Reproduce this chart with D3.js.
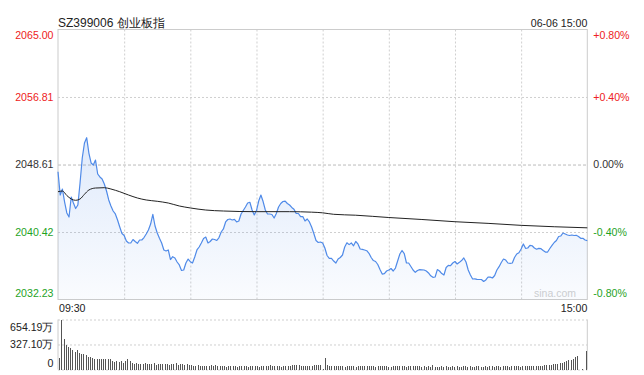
<!DOCTYPE html>
<html><head><meta charset="utf-8">
<script src="https://cdn.jsdelivr.net/npm/d3@7"></script>
<style>html,body{margin:0;padding:0;background:#fff;}svg{display:block;font-family:Arial,"Liberation Sans",Helvetica,sans-serif;}</style>
</head><body><svg id="c" width="644" height="375"></svg>
<script>
const title = "SZ399006 创业板指";
const stamp = "06-06 15:00";
const prevClose = 2048.61;
const priceTicks = [2065.00, 2056.81, 2048.61, 2040.42, 2032.23];
const pctLabels = ["+0.80%", "+0.40%", "0.00%", "-0.40%", "-0.80%"];
const volTicks = [654.19, 327.10, 0];
const volLabels = ["654.19万", "327.10万", "0"];
const timeLabels = ["09:30", "15:00"];
const watermark = "sina.com";

const prices = [
2047.74,2044.91,2045.64,2044.06,2042.73,2042.24,2044.67,2043.94,2043.27,2043.70,
2046.37,2049.40,2051.22,2051.87,2050.01,2048.80,2048.55,2049.16,2047.46,2047.10,
2046.85,2046.25,2045.40,2044.31,2043.58,2042.97,2042.61,2041.88,2041.03,2040.24,
2040.00,2039.33,2039.09,2039.09,2039.51,2039.27,2039.05,2039.45,2039.45,2039.75,
2040.18,2040.66,2041.39,2042.57,2041.15,2040.30,2039.66,2039.09,2038.24,2038.12,
2038.24,2037.08,2037.42,2037.27,2036.78,2036.42,2035.75,2035.81,2036.66,2037.14,
2036.82,2036.66,2037.39,2038.24,2038.60,2039.09,2039.63,2039.81,2039.09,2039.27,
2039.57,2039.51,2039.39,2039.75,2040.42,2040.79,2041.64,2041.94,2042.00,2041.88,
2041.96,2041.64,2041.76,2042.61,2043.03,2043.46,2043.94,2044.03,2043.09,2042.49,
2043.03,2044.18,2044.91,2044.12,2043.09,2042.61,2042.61,2042.55,2042.12,2042.67,
2043.46,2043.88,2044.12,2044.18,2043.88,2043.70,2043.40,2043.18,2042.67,2042.67,
2042.28,2042.30,2041.76,2042.00,2041.64,2041.03,2040.24,2039.39,2039.15,2039.21,
2039.09,2038.48,2037.57,2037.23,2037.21,2036.90,2036.66,2037.14,2037.33,2037.63,
2038.60,2039.11,2038.89,2039.09,2038.75,2039.27,2038.97,2038.36,2038.32,2038.24,
2038.15,2037.84,2037.33,2036.96,2036.84,2036.48,2035.87,2035.32,2035.38,2035.69,
2035.81,2035.99,2035.69,2036.05,2036.90,2037.75,2038.18,2037.81,2036.66,2036.66,
2036.24,2035.81,2035.53,2035.75,2035.85,2035.83,2035.81,2035.69,2035.45,2035.11,
2034.92,2034.96,2035.86,2035.69,2035.38,2035.20,2036.11,2036.38,2036.33,2036.66,
2036.84,2036.54,2036.74,2036.96,2037.27,2036.78,2035.81,2035.20,2034.72,2034.74,
2034.68,2034.66,2034.66,2034.42,2034.60,2034.96,2034.94,2034.84,2035.14,2035.81,
2036.21,2036.72,2037.14,2037.02,2036.66,2036.62,2036.66,2037.33,2037.75,2037.91,
2038.36,2038.97,2038.44,2038.48,2038.79,2038.75,2038.48,2038.33,2038.44,2038.40,
2038.18,2037.99,2037.99,2038.42,2038.79,2039.15,2039.39,2039.88,2039.94,2040.30,
2040.18,2040.06,2040.00,2040.06,2040.00,2040.02,2039.88,2039.66,2039.66,2039.45,
2039.37
];

const avgMinutes = [0,2,4,6,8,10,12,14,17,21,24,28,32,36,40,45,50,55,60,67,75,90,105,115,120,125,135,150,165,180,195,210,225,240];
const avgValues = [2045.31,2045.40,2044.85,2044.43,2044.27,2044.43,2045.00,2045.52,2045.76,2045.80,2045.64,2045.31,2044.91,2044.55,2044.31,2044.15,2043.94,2043.58,2043.34,2043.09,2042.97,2042.89,2042.89,2042.83,2042.75,2042.57,2042.46,2042.18,2041.94,2041.67,2041.47,2041.23,2041.06,2040.93];

const volumes = [
153,654.19,397,327,297,275,253,231,253,218,
209,200,187,166,166,157,140,131,131,131,
140,131,140,131,113,100,113,100,113,87,
113,131,113,87,70,87,70,78,70,87,
70,70,78,87,57,70,70,70,70,78,
57,78,70,87,57,78,70,57,70,57,
57,44,44,57,44,52,52,52,52,65,
52,65,44,52,52,52,35,52,52,44,
52,30,52,44,44,52,30,44,44,52,
52,30,52,44,52,52,65,52,52,52,
44,30,44,44,44,44,65,65,65,65,
52,52,52,52,52,52,65,65,65,65,
8,144,65,52,52,52,44,44,44,44,
30,44,44,44,44,30,44,44,44,44,
52,44,44,44,30,44,52,52,44,44,
30,35,44,44,44,44,44,44,30,44,
44,44,52,44,44,35,44,35,44,35,
65,35,39,39,44,35,44,39,35,44,
39,44,39,35,44,44,39,44,35,39,
44,44,39,35,44,39,44,48,39,44,
44,39,44,48,44,39,44,44,48,44,
39,48,44,44,52,44,48,52,48,52,
52,61,57,65,61,74,70,78,87,83,
96,109,118,122,140,166,178,0,5,0,
240
];

const RED = "#ee2222", GREEN = "#1fa31f", DARK = "#333";
const L = 58, R = 587.3, T = 29.5, B = 299.5, VT = 319.5, VB = 369.5;
const FS = "10.6px";

const svg = d3.select("#c");
const x = d3.scaleLinear().domain([0, 240]).range([L, R]);
const y = d3.scaleLinear().domain([priceTicks[4], priceTicks[0]]).range([B, T]);
const vx = d3.scaleLinear().domain([0, 240]).range([59.3, 586]);
const vy = d3.scaleLinear().domain([0, volTicks[0]]).range([VB, VT]);
const colorOf = v => Math.abs(v - prevClose) < 0.005 ? DARK : (v > prevClose ? RED : GREEN);

// gradient
const defs = svg.append("defs");
const grad = defs.append("linearGradient").attr("id", "g").attr("gradientUnits", "userSpaceOnUse")
  .attr("x1", 0).attr("x2", 0).attr("y1", T).attr("y2", B);
grad.append("stop").attr("offset", 0).attr("stop-color", "#4f8ae8").attr("stop-opacity", 0.28);
grad.append("stop").attr("offset", 1).attr("stop-color", "#4f8ae8").attr("stop-opacity", 0.03);

// horizontal grid (main)
const hg = svg.append("g").attr("transform", `translate(${L},0)`)
  .call(d3.axisLeft(y).tickValues(priceTicks.slice(1, 4)).tickSize(-(R - L)).tickFormat(""));
hg.select(".domain").remove();
hg.selectAll("line").attr("stroke", "#c8c8c8").attr("stroke-dasharray", "2,2")
  .attr("stroke", d => d === prevClose ? "#bbb" : "#cfcfcf")
  .attr("stroke-dasharray", d => d === prevClose ? "3,2" : "2,2");

// vertical grid
const vg = svg.append("g").attr("transform", `translate(0,${B})`)
  .call(d3.axisBottom(x).tickValues([30, 60, 90, 120, 150, 180, 210]).tickSize(-(B - T)).tickFormat(""));
vg.select(".domain").remove();
vg.selectAll("line").attr("stroke", "#cfcfcf").attr("stroke-dasharray", "2,2");

// border main
svg.append("rect").attr("x", L).attr("y", T).attr("width", R - L).attr("height", B - T)
  .attr("fill", "none").attr("stroke", "#cccccc").attr("stroke-width", 1);

// watermark
svg.append("text").attr("x", 576).attr("y", 297).attr("text-anchor", "end")
  .attr("font-size", "10.5px").attr("fill", "#cfcfcf").text(watermark);

// area + line
svg.append("path").datum(prices)
  .attr("d", d3.area().x((d, i) => x(i)).y0(B).y1(d => y(d)))
  .attr("fill", "url(#g)");
svg.append("path").datum(prices)
  .attr("d", d3.line().x((d, i) => x(i)).y(d => y(d)))
  .attr("fill", "none").attr("stroke", "#4f8ae8").attr("stroke-width", 1.2).attr("stroke-linejoin", "round");

// avg line
svg.append("path").datum(avgMinutes.map((m, i) => [m, avgValues[i]]))
  .attr("d", d3.line().x(d => x(d[0])).y(d => y(d[1])).curve(d3.curveMonotoneX))
  .attr("fill", "none").attr("stroke", "#222").attr("stroke-width", 1);

// left price axis
const la = svg.append("g").attr("transform", `translate(${L},0)`)
  .call(d3.axisLeft(y).tickValues(priceTicks).tickSize(0).tickPadding(4.5).tickFormat(d => d.toFixed(2)));
la.select(".domain").remove();
la.selectAll("text").attr("font-size", FS).attr("font-family", null).attr("fill", d => colorOf(d))
  .attr("dy", (d, i) => i === 0 ? "9px" : (i === priceTicks.length - 1 ? "-3px" : "0.32em"));

// right pct axis
const ra = svg.append("g").attr("transform", `translate(${R},0)`)
  .call(d3.axisRight(y).tickValues(priceTicks).tickSize(0).tickPadding(6).tickFormat((d, i) => pctLabels[i]));
ra.select(".domain").remove();
ra.selectAll("text").attr("font-size", FS).attr("font-family", null).attr("fill", d => colorOf(d))
  .attr("dy", (d, i) => i === 0 ? "9px" : (i === priceTicks.length - 1 ? "-3px" : "0.32em"));

// header
svg.append("text").attr("x", L).attr("y", 27).attr("font-size", "12px").attr("fill", "#222").text(title);
svg.append("text").attr("x", R).attr("y", 27).attr("text-anchor", "end").attr("font-size", "10.6px").attr("fill", "#222").text(stamp);

// time labels
svg.append("text").attr("x", x(0) + 1).attr("y", 312).attr("font-size", FS).attr("fill", "#222").text(timeLabels[0]);
svg.append("text").attr("x", x(240)).attr("y", 312).attr("text-anchor", "end").attr("font-size", FS).attr("fill", "#222").text(timeLabels[1]);

// volume grid
const vgr = svg.append("g").attr("transform", `translate(${L},0)`)
  .call(d3.axisLeft(vy).tickValues(volTicks).tickSize(-(R - L)).tickFormat(""));
vgr.select(".domain").remove();
vgr.selectAll("line").attr("stroke", "#cfcfcf").attr("stroke-dasharray", "2,2");
svg.append("line").attr("x1", L).attr("x2", L).attr("y1", VT).attr("y2", VB).attr("stroke", "#ccc");
svg.append("line").attr("x1", R).attr("x2", R).attr("y1", VT).attr("y2", VB).attr("stroke", "#ccc");

// volume bars
svg.append("g").selectAll("rect").data(volumes).join("rect")
  .attr("x", (d, i) => Math.round(vx(i)) - 0.5 + 0.5).attr("width", 1)
  .attr("y", d => vy(d)).attr("height", d => VB - vy(d))
  .attr("fill", "#555").attr("shape-rendering", "crispEdges");

// volume axis
const va = svg.append("g").attr("transform", `translate(${L},0)`)
  .call(d3.axisLeft(vy).tickValues(volTicks).tickSize(0).tickPadding(4.5).tickFormat((d, i) => volLabels[i]));
va.select(".domain").remove();
va.selectAll("text").attr("font-size", FS).attr("font-family", null).attr("fill", "#222")
  .attr("dy", (d, i) => i === 0 ? "10.5px" : (i === volTicks.length - 1 ? "-3px" : "0.32em"));
</script></body></html>
